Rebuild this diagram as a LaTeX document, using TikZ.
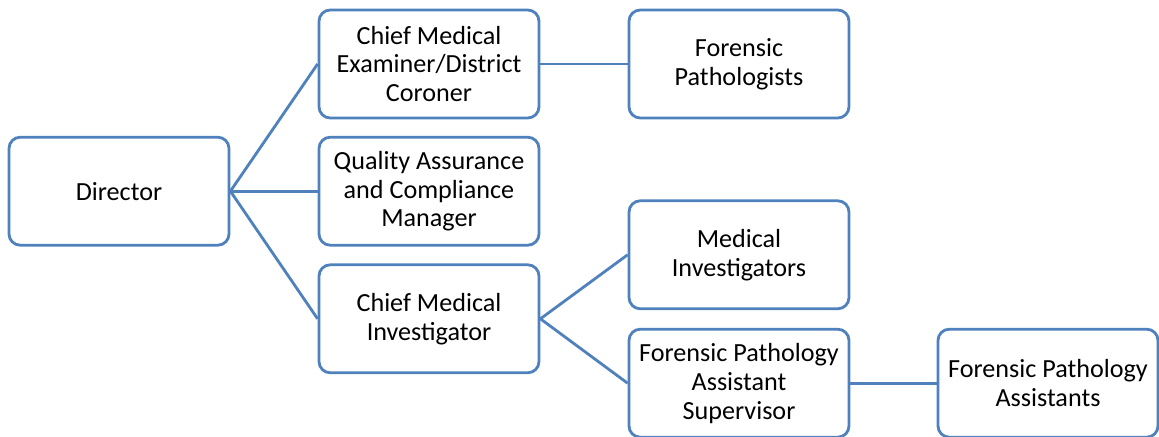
\documentclass[tikz,border=0pt]{standalone}
\usepackage{fontspec}
\setmainfont{Carlito}
\usepackage{tikz}
\definecolor{boxblue}{HTML}{4F81BD}
\tikzset{
    orgbox/.style={draw=boxblue, line width=2pt, rounded corners=8pt, fill=white,
        minimum width=5.5cm, minimum height=2.7cm, align=center,
        font=\fontsize{18.6}{20.6}\selectfont},
    link/.style={draw=boxblue, line width=2pt}}

\begin{document}
\begin{tikzpicture}
                    \useasboundingbox (0,0) rectangle (28.975,10.9);

                    \node[orgbox] (D) at (2.975,6.12) {Director};
                    \node[orgbox] (CME) at (10.725,9.3) {Chief Medical\\Examiner/District\\Coroner};
                    \node[orgbox] (QA) at (10.725,6.12) {Quality Assurance\\and Compliance\\Manager};
                    \node[orgbox] (CMI) at (10.725,2.93) {Chief Medical\\Investigator};
                    \node[orgbox] (FP) at (18.475,9.3) {Forensic\\Pathologists};
                    \node[orgbox] (MI) at (18.475,4.53) {Medical\\Investigators};
                    \node[orgbox] (FPS) at (18.475,1.32) {Forensic Pathology\\Assistant\\Supervisor};
                    \node[orgbox] (FPA) at (26.2,1.32) {Forensic Pathology\\Assistants};

                    \draw[link] (D.east) -- (CME.west);
                    \draw[link] (D.east) -- (QA.west);
                    \draw[link] (D.east) -- (CMI.west);
                    \draw[link] (CME.east) -- (FP.west);
                    \draw[link] (CMI.east) -- (MI.west);
                    \draw[link] (CMI.east) -- (FPS.west);
                    \draw[link] (FPS.east) -- (FPA.west);

\end{tikzpicture}
\end{document}
